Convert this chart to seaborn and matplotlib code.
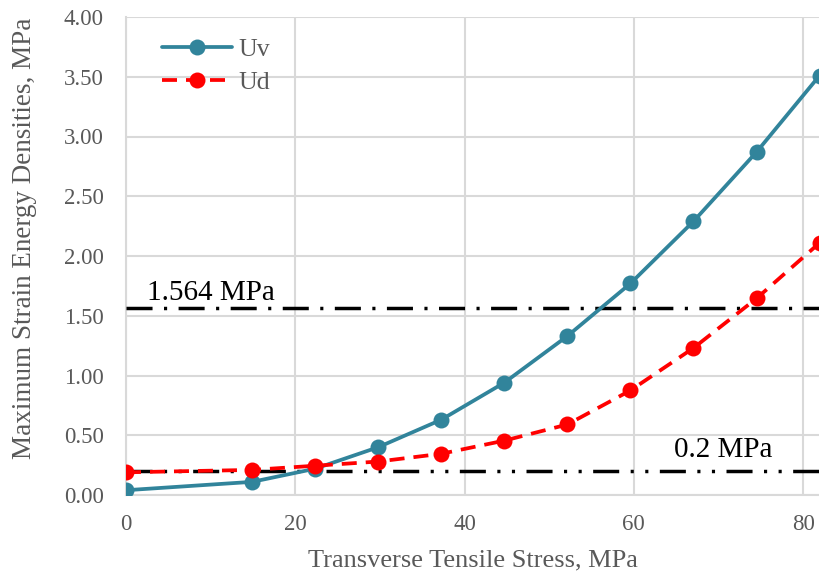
import matplotlib
matplotlib.use("Agg")
import matplotlib.pyplot as plt
import seaborn as sns
import pandas as pd

# Transverse tensile stress (MPa) and the two strain energy densities (MPa)
stress = [0, 14.9, 22.35, 29.8, 37.25, 44.7, 52.15, 59.6, 67.05, 74.5, 81.95]
uv = [0.04, 0.11, 0.22, 0.40, 0.63, 0.94, 1.33, 1.77, 2.29, 2.87, 3.51]
ud = [0.19, 0.21, 0.245, 0.28, 0.345, 0.455, 0.59, 0.875, 1.23, 1.645, 2.11]

# Critical threshold levels
thresholds = [1.564, 0.2]
threshold_labels = ["1.564 MPa", "0.2 MPa"]

x_ticks = [0, 20, 40, 60, 80]
y_ticks = [0.0, 0.5, 1.0, 1.5, 2.0, 2.5, 3.0, 3.5, 4.0]

sns.set_theme(style="whitegrid")
plt.rcParams["font.family"] = ["Liberation Serif", "DejaVu Serif"]

df = pd.DataFrame({
    "stress": stress * 2,
    "value": uv + ud,
    "series": ["Uv"] * len(uv) + ["Ud"] * len(ud),
})

fig = plt.figure(figsize=(8.2, 5.77), dpi=100)
ax = fig.add_axes([126 / 820, 1 - 495 / 577, 1 - 126 / 820, (495 - 17) / 577])

teal = "#31849b"
red = "#ff0000"

sns.lineplot(data=df[df.series == "Uv"], x="stress", y="value", ax=ax,
             color=teal, lw=2.7, marker="o", markersize=11.5,
             markeredgewidth=0, label="Uv", zorder=4)
sns.lineplot(data=df[df.series == "Ud"], x="stress", y="value", ax=ax,
             color=red, lw=2.7, marker="o", markersize=11.5,
             markeredgewidth=0, label="Ud", zorder=5)
ax.lines[-1].set_dashes([4.0, 2.4])

# Threshold lines: dash-dot and dash-dot-dot
ax.axhline(thresholds[0], color="black", lw=2.5, dashes=[7.5, 3.3, 0.9, 3.3], zorder=3)
ax.axhline(thresholds[1], color="black", lw=2.5,
           dashes=[7.5, 3.3, 0.9, 3.3, 0.9, 3.3], zorder=3)

ax.text(2.5, 1.69, threshold_labels[0], fontsize=21, color="black",
        ha="left", va="center")
ax.text(70.6, 0.375, threshold_labels[1], fontsize=21, color="black",
        ha="center", va="center")

ax.set_xlim(0, 82)
ax.set_ylim(0, 4.0)
ax.set_xticks(x_ticks)
ax.set_yticks(y_ticks)
ax.set_yticklabels([f"{v:.2f}" for v in y_ticks])
ax.tick_params(axis="both", labelsize=16.5, labelcolor="#595959", length=0)
ax.tick_params(axis="y", pad=16)
ax.tick_params(axis="x", pad=14)

ax.grid(True, color="#d9d9d9", lw=1.5)
for side in ["top", "right"]:
    ax.spines[side].set_visible(False)
for side in ["left", "bottom"]:
    ax.spines[side].set_color("#d9d9d9")
    ax.spines[side].set_linewidth(1.5)

ax.set_xlabel("Transverse Tensile Stress, MPa", fontsize=19, color="#595959",
              labelpad=10)
ax.set_ylabel("Maximum Strain Energy Densities, MPa", fontsize=19.5,
              color="#595959")
ax.yaxis.set_label_coords(-0.128, 0.538)

leg = ax.legend(loc="upper left", bbox_to_anchor=(0.019, 1.005), frameon=False,
                fontsize=18.5, handlelength=2.7, handletextpad=0.25,
                labelspacing=0.4)
for t in leg.get_texts():
    t.set_color("#595959")

fig.savefig("out.png", dpi=100)
